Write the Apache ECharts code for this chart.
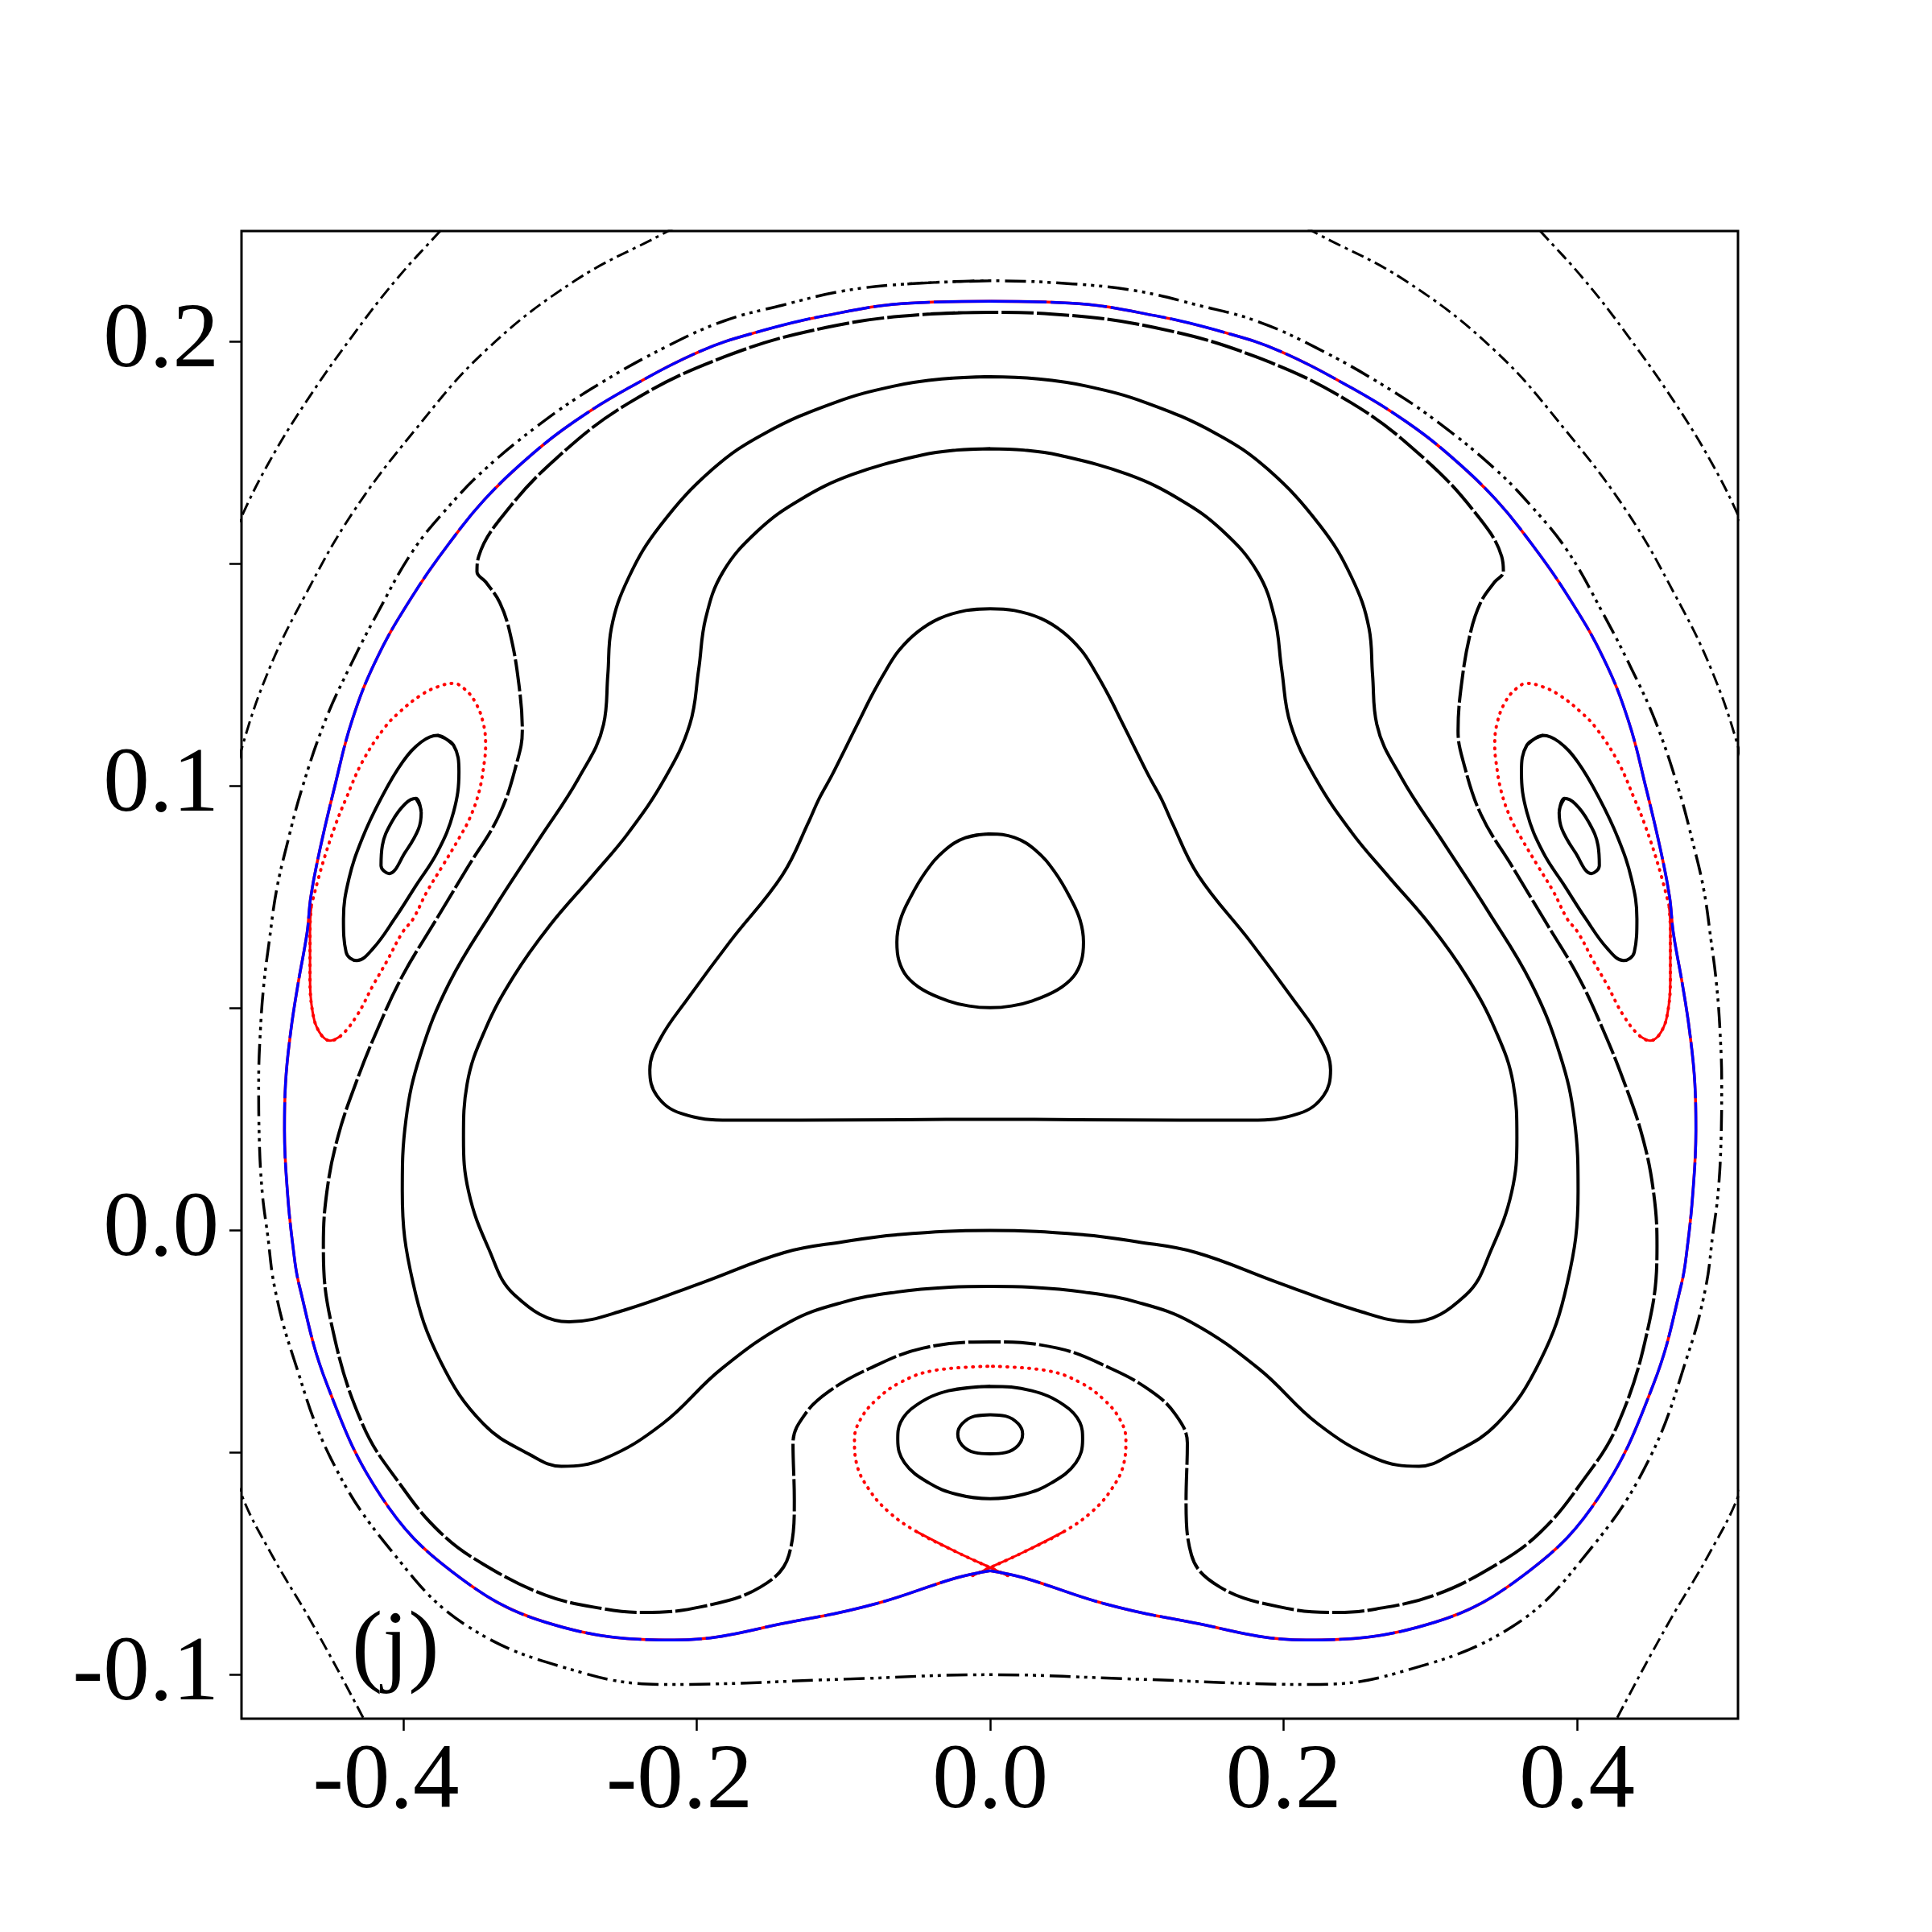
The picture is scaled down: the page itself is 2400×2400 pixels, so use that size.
<!DOCTYPE html>
<html><head><meta charset="utf-8">
<script src="https://cdn.jsdelivr.net/npm/echarts@6/dist/echarts.min.js"></script>
<style>html,body{margin:0;padding:0;background:#fff}#c{width:2400px;height:2400px}</style>
</head><body><div id="c"></div>
<script>
// ---- axis ticks ----
const xTickValues = [-0.4, -0.2, 0.0, 0.2, 0.4];
const yTickValues = [-0.1, -0.05, 0.0, 0.05, 0.1, 0.15, 0.2];
const yLabelValues = [-0.1, 0.0, 0.1, 0.2];
const panelLabel = '(j)';

// ---- orbits (left halves; figure is mirror-symmetric in x) ----
const curveA_left = [[0,0.0892],[-0.0165,0.0884],[-0.0311,0.0855],[-0.0439,0.0807],[-0.0549,0.0746],[-0.0613,0.0698],[-0.0636,0.0649],[-0.0622,0.0607],[-0.0567,0.0571],[-0.0457,0.0541],[-0.0292,0.0517],[-0.0146,0.0505],[0,0.0501]];
const curveB_left = [[0,0.1399],[-0.0165,0.1395],[-0.0347,0.1377],[-0.0494,0.1347],[-0.0622,0.1305],[-0.0713,0.1259],[-0.0805,0.1205],[-0.0896,0.1145],[-0.0988,0.1084],[-0.1079,0.1024],[-0.117,0.0969],[-0.1235,0.0921],[-0.1416,0.080],[-0.1773,0.065],[-0.2058,0.0523],[-0.2249,0.0431],[-0.232,0.0361],[-0.2272,0.0303],[-0.2106,0.0263],[-0.1773,0.0248],[-0.1297,0.0248],[-0.06,0.0249],[0,0.025]];
const curveC_left = [[0,0.1759],[-0.023,0.1756],[-0.0464,0.1745],[-0.094,0.1701],[-0.1297,0.1644],[-0.1582,0.1575],[-0.1821,0.1482],[-0.1939,0.1378],[-0.1987,0.1262],[-0.2047,0.1139],[-0.2218,0.1017],[-0.2463,0.0896],[-0.2708,0.0799],[-0.3002,0.0686],[-0.3247,0.0572],[-0.3443,0.0451],[-0.3565,0.033],[-0.359,0.0209],[-0.3555,0.0087],[-0.342,-0.004],[-0.3243,-0.0145],[-0.287,-0.0206],[-0.2498,-0.018],[-0.1966,-0.0118],[-0.1404,-0.005],[-0.1006,-0.0026],[-0.064,-0.001],[0,0]];
const curveD_left = [[0,0.1921],[-0.033,0.1916],[-0.0656,0.1900],[-0.1059,0.1863],[-0.1535,0.1794],[-0.1892,0.1713],[-0.2249,0.1586],[-0.2463,0.147],[-0.2582,0.1355],[-0.2606,0.1251],[-0.2635,0.1139],[-0.2806,0.1017],[-0.3075,0.088],[-0.3394,0.0718],[-0.3688,0.0556],[-0.3884,0.0395],[-0.3982,0.0249],[-0.4007,0.0087],[-0.3934,-0.0118],[-0.3748,-0.0294],[-0.3456,-0.0435],[-0.3136,-0.0505],[-0.2923,-0.0531],[-0.2631,-0.0514],[-0.2232,-0.0435],[-0.1833,-0.0312],[-0.1372,-0.0207],[-0.1006,-0.0162],[-0.064,-0.0139],[-0.0274,-0.0128],[0,-0.0126]];
const curveE_left = [[0,0.2066],[-0.0425,0.2062],[-0.1118,0.2032],[-0.1811,0.1966],[-0.2463,0.1862],[-0.2962,0.1736],[-0.332,0.1609],[-0.3486,0.1517],[-0.3498,0.1482],[-0.3438,0.1459],[-0.3343,0.1413],[-0.3272,0.1343],[-0.3212,0.1228],[-0.3189,0.1124],[-0.3222,0.1058],[-0.3345,0.0936],[-0.3565,0.0815],[-0.3786,0.0694],[-0.4007,0.0572],[-0.4178,0.0451],[-0.4325,0.033],[-0.4447,0.0209],[-0.4521,0.0087],[-0.4545,-0.0034],[-0.4493,-0.0206],[-0.428,-0.0435],[-0.4014,-0.0575],[-0.3748,-0.068],[-0.3456,-0.0751],[-0.303,-0.0821],[-0.2631,-0.0852],[-0.2365,-0.086],[-0.1966,-0.0847],[-0.1567,-0.0803],[-0.1372,-0.0731],[-0.1335,-0.0608],[-0.1344,-0.0479],[-0.1262,-0.0414],[-0.1097,-0.0362],[-0.0823,-0.0311],[-0.0457,-0.0265],[0,-0.0251]];
const separatrixBlue_left = [[0,0.2091],[-0.054,0.2087],[-0.1118,0.2059],[-0.1606,0.202],[-0.1973,0.1979],[-0.2463,0.1896],[-0.2831,0.1821],[-0.3125,0.1746],[-0.3443,0.1646],[-0.3688,0.1546],[-0.3933,0.143],[-0.4178,0.1289],[-0.4349,0.1148],[-0.4472,0.0993],[-0.457,0.0855],[-0.4631,0.075],[-0.4656,0.067],[-0.4717,0.0556],[-0.4766,0.0451],[-0.4803,0.033],[-0.481,0.0225],[-0.479,0.0087],[-0.4753,-0.0034],[-0.471,-0.0123],[-0.452,-0.0347],[-0.4147,-0.0601],[-0.3668,-0.0768],[-0.303,-0.0882],[-0.2153,-0.0922],[-0.1321,-0.0879],[-0.0775,-0.084],[-0.0229,-0.0782],[0,-0.0766]];
const curveG_left = [[0,0.2137],[-0.0564,0.213],[-0.1003,0.2114],[-0.1418,0.2082],[-0.1811,0.2047],[-0.2218,0.1987],[-0.2708,0.1896],[-0.3075,0.1813],[-0.3443,0.1713],[-0.3688,0.163],[-0.3933,0.153],[-0.4178,0.1388],[-0.4371,0.1264],[-0.4536,0.1144],[-0.4692,0.0993],[-0.479,0.0872],[-0.4864,0.0766],[-0.4913,0.0653],[-0.495,0.0556],[-0.4974,0.0451],[-0.4986,0.033],[-0.4982,0.0209],[-0.4962,0.0087],[-0.4925,-0.001],[-0.4876,-0.013],[-0.4759,-0.0276],[-0.4493,-0.0514],[-0.4094,-0.0716],[-0.3562,-0.0891],[-0.2764,-0.0997],[-0.2186,-0.1022],[-0.0988,-0.101],[0,-0.1]];
const outerArc1_left = [[-0.53,0.145],[-0.5104,0.1605],[-0.4913,0.173],[-0.4668,0.1862],[-0.4349,0.2012],[-0.4055,0.2137],[-0.3749,0.2249],[-0.355,0.232]];
const outerArc2_left = [[-0.2,0.2285],[-0.2218,0.2245],[-0.2831,0.2137],[-0.3443,0.1979],[-0.3933,0.1796],[-0.4349,0.1613],[-0.4668,0.143],[-0.4913,0.1264],[-0.5104,0.1081],[-0.54,0.07],[-0.55,0.02],[-0.54,-0.03],[-0.5105,-0.0593],[-0.4892,-0.0733],[-0.4626,-0.0882],[-0.428,-0.1093],[-0.42,-0.115]];
// islands (left one; right one is its mirror)
const islandOuter_left = [[-0.3768,0.1114],[-0.3658,0.1092],[-0.3621,0.1032],[-0.3658,0.0941],[-0.3768,0.0851],[-0.3914,0.0776],[-0.406,0.0701],[-0.4207,0.0634],[-0.4317,0.0607],[-0.439,0.0626],[-0.4408,0.0701],[-0.4371,0.0791],[-0.428,0.0882],[-0.4152,0.0972],[-0.4005,0.1054],[-0.3878,0.1099]];
const islandInner_left = [[-0.3914,0.0972],[-0.3878,0.0941],[-0.3896,0.0904],[-0.3987,0.0851],[-0.4097,0.0803],[-0.4152,0.0821],[-0.4143,0.0866],[-0.4079,0.0919],[-0.3987,0.096]];
const islandRed_left = [[-0.4627,0.0731],[-0.4554,0.0821],[-0.4463,0.0912],[-0.439,0.0972],[-0.428,0.1054],[-0.4133,0.1129],[-0.4024,0.1167],[-0.3878,0.1205],[-0.3768,0.1223],[-0.3658,0.1231],[-0.3585,0.1219],[-0.3512,0.119],[-0.3457,0.1144],[-0.3439,0.1092],[-0.3448,0.1054],[-0.3484,0.0987],[-0.3548,0.0927],[-0.3621,0.0882],[-0.3731,0.0821],[-0.3841,0.0761],[-0.3933,0.0701],[-0.4005,0.0671],[-0.4115,0.0604],[-0.4207,0.0551],[-0.4317,0.0483],[-0.4426,0.0438],[-0.4499,0.0427],[-0.4572,0.0446],[-0.4618,0.0491],[-0.4636,0.0566],[-0.4636,0.0679],[-0.4627,0.0731]];
// bottom island (left halves)
const bottomOuter_left = [[0,-0.0351],[-0.0284,-0.0361],[-0.0502,-0.0393],[-0.0611,-0.0432],[-0.063,-0.0471],[-0.0584,-0.0523],[-0.042,-0.0568],[-0.0229,-0.0594],[0,-0.0604]];
const bottomInner_left = [[0,-0.0415],[-0.0105,-0.0418],[-0.019,-0.0435],[-0.0221,-0.0458],[-0.019,-0.0484],[-0.0105,-0.05],[0,-0.0503]];
const bottomRed_left = [[0.012,-0.0777],[0,-0.0759],[-0.0229,-0.0724],[-0.0502,-0.0678],[-0.0694,-0.0633],[-0.083,-0.0581],[-0.0912,-0.0523],[-0.0925,-0.0471],[-0.0885,-0.0426],[-0.0775,-0.0381],[-0.0611,-0.0342],[-0.0393,-0.0316],[0,-0.0306]];

// ---- helpers ----
function mirror(a){ return a.map(p => [-p[0], p[1]]); }
function mirrorLoop(left){
  const right = left.slice(0, -1).reverse().map(p => [-p[0], p[1]]);
  const full = left.concat(right);
  full.push(full[1]);
  return full;
}
function closeLoop(a){ return a.concat([a[0], a[1]]); }

const BLACK = '#000000', BLUE = '#0000ff', RED = '#ff0000';
const SM = 0.4;
function line(data, color, width, type, smooth, extra){
  return Object.assign({
    type: 'line', data: data, showSymbol: false, symbol: 'none',
    smooth: smooth === undefined ? SM : smooth,
    lineStyle: { color: color, width: width, type: type || 'solid', cap: 'butt' },
    silent: true, animation: false, z: 2
  }, extra || {});
}

const dashDot3 = [26, 7, 4, 6, 4, 6, 4, 7];
const dashDot1 = [16, 6, 4, 6];
const redDots = [1, 8];
const LW = 4;

const series = [];
// outer arcs
series.push(line(outerArc1_left, BLACK, 3, dashDot1));
series.push(line(mirror(outerArc1_left), BLACK, 3, dashDot1));
series.push(line(outerArc2_left, BLACK, 3, dashDot1));
series.push(line(mirror(outerArc2_left), BLACK, 3, dashDot1));
// outer dash-dot orbit
series.push(line(mirrorLoop(curveG_left), BLACK, 3.5, dashDot3));
// blue separatrix with red specks beneath
[separatrixBlue_left, mirror(separatrixBlue_left)].forEach(h => {
  series.push(line(h, RED, 3.5, 'solid'));
  series.push(line(h, BLUE, 3.5, [70, 5], SM, {z: 3}));
});
// regular orbits
series.push(line(mirrorLoop(curveE_left), BLACK, LW, [40, 4]));
series.push(line(mirrorLoop(curveD_left), BLACK, LW));
series.push(line(mirrorLoop(curveC_left), BLACK, LW));
series.push(line(mirrorLoop(curveB_left), BLACK, LW));
series.push(line(mirrorLoop(curveA_left), BLACK, LW));
// side islands
[islandOuter_left, mirror(islandOuter_left)].forEach(a => series.push(line(closeLoop(a), BLACK, LW)));
[islandInner_left, mirror(islandInner_left)].forEach(a => series.push(line(closeLoop(a), BLACK, LW)));
[islandRed_left, mirror(islandRed_left)].forEach(a => {
  series.push(line(a, RED, 4, redDots, 0.4, {lineStyle: {color: RED, width: 4, type: redDots, cap: 'round'}}));
  series.push(line(a.slice(a.length - 7), RED, 3, 'solid', 0.4));
});
// bottom island
series.push(line(mirrorLoop(bottomOuter_left), BLACK, LW));
series.push(line(mirrorLoop(bottomInner_left), BLACK, LW));
[bottomRed_left, mirror(bottomRed_left)].forEach(a => {
  series.push(line(a, RED, 4, redDots, 0.4, {lineStyle: {color: RED, width: 4, type: redDots, cap: 'round'}}));
  series.push(line(a.slice(0, 4), RED, 3, 'solid', 0.4));
});

const fontFam = '"Liberation Serif", "Times New Roman", serif';
const chart = echarts.init(document.getElementById('c'), null, {renderer: 'canvas'});
chart.setOption({
  backgroundColor: '#ffffff',
  animation: false,
  grid: { left: 300, top: 287, right: 241, bottom: 265, show: true, borderColor: BLACK, borderWidth: 3, backgroundColor: 'transparent', containLabel: false },
  xAxis: {
    type: 'value', min: -0.5103, max: 0.5097, position: 'bottom',
    axisLine: { show: false, onZero: false },
    splitLine: { show: false },
    axisTick: { show: true, inside: false, length: 15, lineStyle: { color: BLACK, width: 2.5 }, customValues: xTickValues },
    axisLabel: { show: true, margin: 22, fontSize: 115, fontFamily: fontFam, color: BLACK, customValues: xTickValues,
      formatter: v => v < 0 ? '{neg|' + v.toFixed(1) + '}' : v.toFixed(1),
      rich: { neg: { fontSize: 115, fontFamily: fontFam, color: BLACK, padding: [0, 43, 0, 0] } } }
  },
  yAxis: {
    type: 'value', min: -0.1099, max: 0.2249, position: 'left',
    axisLine: { show: false, onZero: false },
    splitLine: { show: false },
    axisTick: { show: true, inside: false, length: 15, lineStyle: { color: BLACK, width: 2.5 }, customValues: yTickValues },
    axisLabel: { show: true, margin: 28, fontSize: 115, fontFamily: fontFam, color: BLACK, customValues: yLabelValues,
      formatter: v => v.toFixed(1) }
  },
  graphic: [{
    type: 'text', left: 437, top: 1992, z: 10,
    style: { text: panelLabel, fontSize: 115, fontFamily: fontFam, fill: BLACK }
  }],
  series: series
});
</script></body></html>
